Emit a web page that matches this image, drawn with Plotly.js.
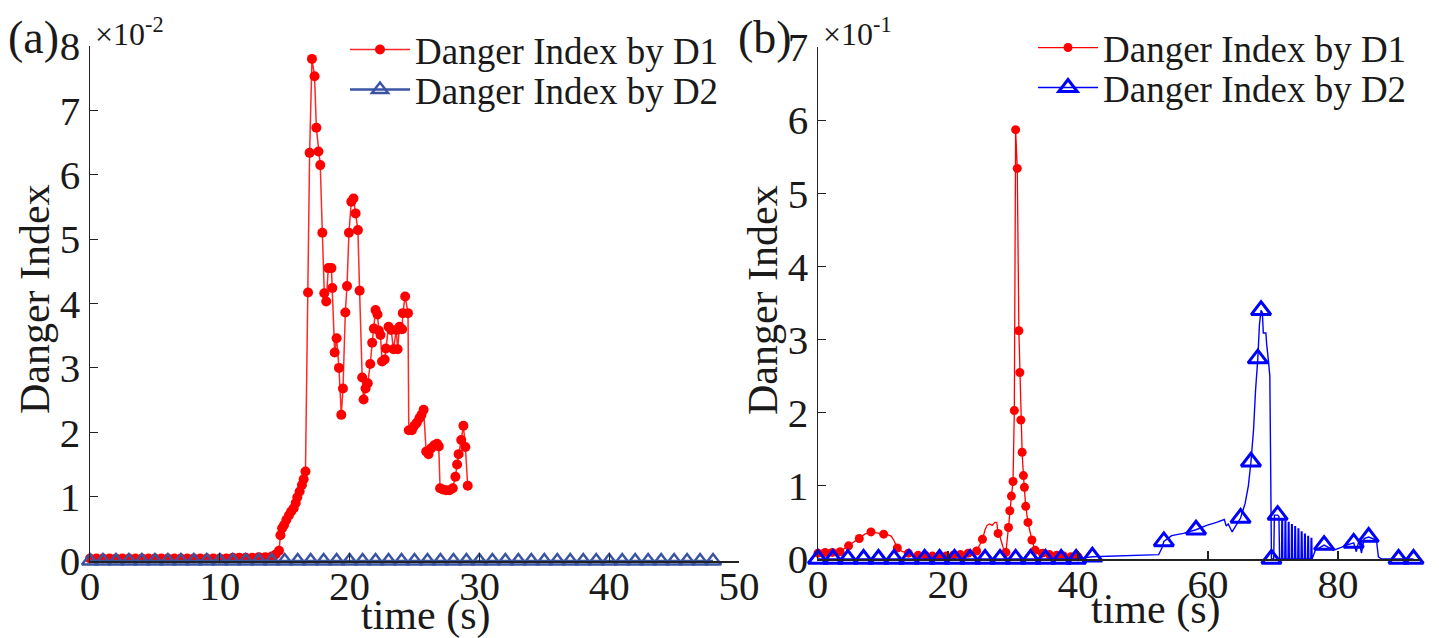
<!DOCTYPE html>
<html>
<head>
<meta charset="utf-8">
<script src="https://cdn.plot.ly/plotly-3.0.1.min.js"></script>
<style>html,body{margin:0;padding:0;background:#fff;}#chart{width:1439px;height:638px;}</style>
</head>
<body>
<div id="chart"></div>
<script>
// ---------- Panel (a) data ----------
const aRedTime = [0,0.5,1.0,1.5,2.0,2.5,3.0,3.5,4.0,4.5,5.0,5.5,6.0,6.5,7.0,7.5,8.0,8.5,9.0,9.5,10.0,10.5,11.0,11.5,12.0,12.5,13.0,13.5,14.0,14.3,
  14.56,14.67,14.8,14.95,15.13,15.33,15.5,15.69,15.85,15.97,16.15,16.33,16.46,16.6,16.8,16.92,17.1,17.3,17.44,17.6,17.74,17.9,
  18.05,18.2,18.36,18.6,18.67,18.85,19.0,19.18,19.36,19.49,19.67,19.8,19.95,20.13,20.3,20.46,20.64,20.77,20.97,21.08,21.23,21.4,
  21.59,21.74,21.87,22.0,22.15,22.25,22.38,22.5,22.7,22.8,23.0,23.2,23.38,23.6,23.7,23.85,24.05,24.1,24.28,24.5,24.56,24.8,24.98,
  25.18,25.38,25.54,25.7,25.9,26.08,26.28,26.54,26.74,26.87,26.97,27.18,27.44,27.7,27.95,28.15,28.28,28.4,28.6,28.77,28.92,29.1];
const aRedIndex = [0.0004,0.0004,0.0004,0.0004,0.0004,0.0004,0.0004,0.0004,0.0004,0.0004,0.0004,0.0004,0.0004,0.0004,0.0004,0.0004,0.0004,0.0004,0.0004,0.0004,0.0004,0.0004,0.0005,0.0005,0.0005,0.0005,0.0006,0.0006,0.0007,0.0010,
  0.0016,0.0040,0.0051,0.0056,0.0064,0.0071,0.0077,0.0082,0.0090,0.0099,0.0108,0.0118,0.0127,0.0139,0.0417,0.0634,0.0780,0.0753,0.0673,0.0636,0.0615,0.0510,
  0.0416,0.0403,0.0455,0.0455,0.0424,0.0324,0.0346,0.0300,0.0227,0.0268,0.0386,0.0427,0.0510,0.0558,0.0563,0.0540,0.0514,0.0420,0.0285,0.0251,0.0268,0.0276,
  0.0306,0.0339,0.0361,0.0390,0.0383,0.0358,0.0351,0.0310,0.0313,0.0330,0.0364,0.0359,0.0329,0.0359,0.0329,0.0364,0.0360,0.0385,0.0411,0.0385,0.0203,0.0203,0.0210,
  0.0215,0.0222,0.0227,0.0235,0.0170,0.0166,0.0175,0.0180,0.0182,0.0178,0.0113,0.0111,0.0110,0.0110,0.0113,0.0131,0.0150,0.0166,0.0188,0.0210,0.0177,0.0117];
const aBlueTime = [0,1,2,3,4,5,6,7,8,9,10,11,12,13,14,15,16,17,18,19,20,21,22,23,24,25,26,27,28,29,30,31,32,33,34,35,36,37,38,39,40,41,42,43,44,45,46,47,48];
const aBlueIndex = [0,0,0,0,0,0,0,0,0,0,0,0,0,0,0,0,0,0,0,0,0,0,0,0,0,0,0,0,0,0,0,0,0,0,0,0,0,0,0,0,0,0,0,0,0,0,0,0,0];

// ---------- Panel (b) data ----------
const bRedTime = [0.0,1.1,2.2,3.4,4.7,5.5,6.35,7.2,8.15,9.1,10.1,10.8,11.3,11.7,12.2,13.0,13.9,15.4,16.5,17.6,18.6,19.7,20.8,21.9,23.1,24.4,
  25.3,25.7,26.0,26.4,26.8,27.2,27.5,27.7,28.0,28.5,28.9,29.3,29.5,29.75,30.0,30.2,30.4,30.65,30.9,31.05,31.2,31.4,31.6,31.75,31.95,
  32.3,32.9,33.4,34.5,35.6,36.7,37.8,38.9,40.0];
const bRedIndex = [0.008,0.009,0.009,0.010,0.018,0.023,0.028,0.034,0.037,0.036,0.034,0.033,0.031,0.025,0.015,0.010,0.008,0.005,0.005,0.004,0.004,0.004,0.005,0.006,0.008,0.011,
  0.027,0.040,0.046,0.048,0.046,0.050,0.050,0.035,0.030,0.015,0.009,0.043,0.066,0.086,0.106,0.203,0.587,0.534,0.312,0.255,0.190,0.146,0.114,0.098,0.072,
  0.050,0.026,0.012,0.008,0.006,0.005,0.004,0.003,0.003];
// 1 = sample drawn with a marker, 0 = line-only sample
const bRedMarked = [1,1,1,1,1,0,1,0,1,0,1,0,0,0,1,0,1,1,1,1,1,1,1,1,1,1,
  1,0,0,0,0,0,0,1,0,0,1,1,1,1,1,1,1,1,1,1,1,1,1,1,1,
  1,1,1,1,1,1,1,1,1];

const bBlueTime = [0.0,2.3,4.6,7.0,9.3,11.7,14.0,16.4,18.7,21.0,23.4,25.7,28.0,30.4,32.7,35.0,37.4,39.7,42.2,45,50,52.4,52.9,53.2,54.4,56.2,58.15,
  59.8,61.3,62.5,62.8,63.1,63.7,64.2,65.0,65.7,66.2,66.6,67.0,67.3,67.65,67.9,68.15,68.35,68.5,68.9,69.0,69.3,69.5,69.6,69.75,70.1,70.2,70.7,70.9,
  71.0,71.3,71.35,71.45,71.5,71.8,71.85,71.95,72.0,72.3,72.35,72.45,72.5,72.8,72.85,72.95,73.0,73.3,73.35,73.45,73.5,73.8,73.85,73.95,74.0,
  74.3,74.35,74.45,74.5,74.8,74.85,74.95,75.0,75.3,75.35,75.45,75.5,75.8,75.85,75.95,76.0,76.5,
  77.85,79.3,80.5,81.3,82.4,82.8,83.2,83.6,84.0,84.7,85.9,86.2,86.7,89.3,91.6];
const bBlueIndex = [0,0,0,0,0,0,0,0,0,0,0,0,0,0,0,0,0,0,0.003,0.004,0.005,0.006,0.015,0.024,0.032,0.035,0.040,
  0.046,0.050,0.054,0.045,0.048,0.037,0.045,0.056,0.076,0.100,0.133,0.177,0.230,0.274,0.320,0.340,0.337,0.309,0.309,0.295,0.270,0.250,0.154,0.0,0.0,0.060,0.060,0.058,
  0.0,0.0,0.055,0.055,0.0,0.0,0.052,0.052,0.0,0.0,0.050,0.050,0.0,0.0,0.047,0.047,0.0,0.0,0.044,0.044,0.0,0.0,0.041,0.041,0.0,
  0.0,0.037,0.037,0.0,0.0,0.034,0.034,0.0,0.0,0.031,0.031,0.0,0.0,0.028,0.028,0.0,0.012,
  0.019,0.012,0.016,0.019,0.022,0.010,0.025,0.008,0.028,0.030,0.026,0.003,0.0,0.0,0.0];
const bBlueMarked = [1,1,1,1,1,1,1,1,1,1,1,1,1,1,1,1,1,1,1,0,0,0,0,1,0,0,1,
  0,0,0,0,0,0,0,1,0,0,1,0,0,1,0,1,0,0,0,0,0,0,0,1,0,0,1,0,
  0,0,0,0,0,0,0,0,0,0,0,0,0,0,0,0,0,0,0,0,0,0,0,0,0,
  0,0,0,0,0,0,0,0,0,0,0,0,0,0,0,0,0,
  1,0,0,0,1,0,0,0,0,1,0,0,0,1,1];

const seriesNames = ['Danger Index by D1', 'Danger Index by D2'];
const aYTickVals = [0,0.01,0.02,0.03,0.04,0.05,0.06,0.07,0.08];
const aYTickText = ['0','1','2','3','4','5','6','7','8'];
const bYTickVals = [0,0.1,0.2,0.3,0.4,0.5,0.6,0.7];
const bYTickText = ['0','1','2','3','4','5','6','7'];
const aXTicks = [0,10,20,30,40,50];
const bXTicks = [0,20,40,60,80];

// ---------- styling ----------
const FONT = "'Liberation Serif', 'Times New Roman', Times, serif";
const W = 1439, H = 638;
const px = v => v / W;
const py = v => 1 - v / H;
const INK = '#1a1a1a';
const BLUE_A = 'rgb(58,84,164)';
const hideColor = (marks, c) => marks.map(m => m ? c : 'rgba(0,0,0,0)');

const traces = [
  {x: aRedTime, y: aRedIndex, xaxis: 'x', yaxis: 'y', name: seriesNames[0], mode: 'lines+markers',
   line: {color: 'rgb(255,40,40)', width: 1.5}, marker: {color: '#ff0000', size: 10, symbol: 'circle'},
   cliponaxis: false, legend: 'legend'},
  {x: aBlueTime, y: aBlueIndex, xaxis: 'x', yaxis: 'y', name: seriesNames[1], mode: 'lines+markers',
   line: {color: BLUE_A, width: 2.5}, marker: {color: BLUE_A, size: 14, symbol: 'triangle-up-open', line: {width: 2.5}},
   cliponaxis: false, legend: 'legend2'},
  {x: bRedTime, y: bRedIndex, xaxis: 'x2', yaxis: 'y2', name: seriesNames[0], mode: 'lines+markers',
   line: {color: '#ff0000', width: 1.3}, marker: {color: hideColor(bRedMarked, '#ff0000'), size: 9, symbol: 'circle'},
   cliponaxis: false, legend: 'legend3'},
  {x: bBlueTime, y: bBlueIndex, xaxis: 'x2', yaxis: 'y2', name: seriesNames[1], mode: 'lines+markers',
   line: {color: '#0000ff', width: 1.4}, marker: {color: hideColor(bBlueMarked, '#0000ff'), size: 17, symbol: 'triangle-up-open', line: {width: 3}},
   cliponaxis: false, legend: 'legend4'}
];

const axisCommon = {
  showgrid: false, zeroline: false, showline: true, linecolor: '#222', linewidth: 1.5,
  ticks: 'inside', ticklen: 8, tickwidth: 1.2, tickcolor: '#222',
  tickfont: {family: FONT, size: 41, color: INK}, fixedrange: true
};
const titleFont = {family: FONT, size: 42, color: INK};
const legendCommon = {bgcolor: 'rgba(0,0,0,0)', borderwidth: 0, font: {family: FONT, size: 37, color: INK},
  xanchor: 'left', yanchor: 'middle', itemwidth: 60};

const layout = {
  width: W, height: H, margin: {l: 0, r: 0, t: 0, b: 0},
  paper_bgcolor: '#fff', plot_bgcolor: '#fff', showlegend: true,
  font: {family: FONT, color: INK},
  xaxis: Object.assign({}, axisCommon, {domain: [px(90), px(739)], range: [0, 50], tickvals: aXTicks, anchor: 'y', ticklabelstandoff: -12}),
  yaxis: Object.assign({}, axisCommon, {domain: [1 - 561 / H, 1 - 46 / H], range: [0, 0.08], tickvals: aYTickVals, ticktext: aYTickText, anchor: 'x'}),
  xaxis2: Object.assign({}, axisCommon, {domain: [px(818), px(1420)], range: [0, 92.6], tickvals: bXTicks, anchor: 'y2', ticklabelstandoff: -12}),
  yaxis2: Object.assign({}, axisCommon, {domain: [1 - 559 / H, 1 - 47 / H], range: [0, 0.7], tickvals: bYTickVals, ticktext: bYTickText, anchor: 'x2'}),
  legend: Object.assign({}, legendCommon, {x: px(345), y: py(50)}),
  legend2: Object.assign({}, legendCommon, {x: px(345), y: py(90)}),
  legend3: Object.assign({}, legendCommon, {x: px(1033), y: py(48)}),
  legend4: Object.assign({}, legendCommon, {x: px(1033), y: py(88)}),
  annotations: [
    {text: 'time (s)', xref: 'paper', yref: 'paper', x: px(425), y: py(615), xanchor: 'center', yanchor: 'middle', showarrow: false, font: titleFont},
    {text: 'time (s)', xref: 'paper', yref: 'paper', x: px(1155), y: py(609), xanchor: 'center', yanchor: 'middle', showarrow: false, font: titleFont},
    {text: 'Danger Index', xref: 'paper', yref: 'paper', x: px(35), y: py(299), xanchor: 'center', yanchor: 'middle', textangle: -90, showarrow: false, font: titleFont},
    {text: 'Danger Index', xref: 'paper', yref: 'paper', x: px(763), y: py(300), xanchor: 'center', yanchor: 'middle', textangle: -90, showarrow: false, font: titleFont},
    {text: '(a)', xref: 'paper', yref: 'paper', x: px(6), y: py(38), xanchor: 'left', yanchor: 'middle', showarrow: false,
     font: {family: FONT, size: 46, color: INK}},
    {text: '(b)', xref: 'paper', yref: 'paper', x: px(736), y: py(38), xanchor: 'left', yanchor: 'middle', showarrow: false,
     font: {family: FONT, size: 46, color: INK}},
    {text: '×10<sup>-2</sup>', xref: 'paper', yref: 'paper', x: px(93), y: py(32), xanchor: 'left', yanchor: 'middle', showarrow: false,
     font: {family: FONT, size: 32, color: INK}},
    {text: '×10<sup>-1</sup>', xref: 'paper', yref: 'paper', x: px(821), y: py(32), xanchor: 'left', yanchor: 'middle', showarrow: false,
     font: {family: FONT, size: 32, color: INK}}
  ]
};

Plotly.newPlot('chart', traces, layout, {staticPlot: true, displayModeBar: false});
</script>
</body>
</html>
